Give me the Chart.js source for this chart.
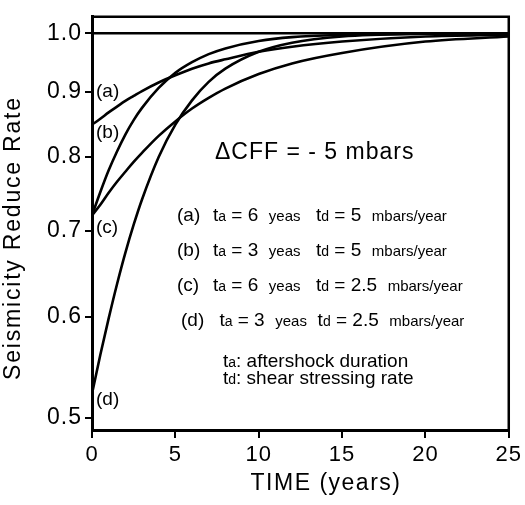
<!DOCTYPE html>
<html>
<head>
<meta charset="utf-8">
<script src="https://cdn.jsdelivr.net/npm/chart.js@4.4.0/dist/chart.umd.min.js"></script>
<style>
  html, body { margin: 0; padding: 0; background: #fff; }
  #wrap { width: 525px; height: 505px; }
</style>
</head>
<body>
<div id="wrap"><canvas id="myChart" width="525" height="505"></canvas></div>
<script>
// time after the stress drop (years)
const temps = [0, 0.5, 1, 1.5, 2, 2.5, 3, 4, 5, 6, 7, 8, 10, 12, 15, 20, 25];

// seismicity rate relative to background, one array per case
const courbeA = [0.848, 0.857, 0.867, 0.876, 0.885, 0.893, 0.901, 0.915, 0.927, 0.938, 0.947, 0.954, 0.967, 0.976, 0.985, 0.994, 0.997];
const courbeB = [0.720, 0.751, 0.781, 0.808, 0.833, 0.855, 0.874, 0.906, 0.931, 0.949, 0.963, 0.973, 0.986, 0.993, 0.997, 0.999, 1.000];
const courbeC = [0.720, 0.734, 0.750, 0.765, 0.779, 0.793, 0.806, 0.831, 0.853, 0.873, 0.890, 0.905, 0.929, 0.947, 0.965, 0.985, 0.994];
const courbeD = [0.522, 0.560, 0.598, 0.636, 0.673, 0.708, 0.741, 0.800, 0.848, 0.886, 0.916, 0.938, 0.967, 0.983, 0.994, 0.999, 1.000];

// background level
const tempsRef = [0, 25];
const niveauRef = [1, 1];

const ticksY = [0.5, 0.6, 0.7, 0.8, 0.9, 1.0];
const ticksX = [0, 5, 10, 15, 20, 25];

// curve tags next to the axis, and where they sit on the rate scale
const etiquettes = ["(a)", "(b)", "(c)", "(d)"];
const etiquettesY = [0.9, 0.835, 0.704, 0.516];

// legend rows
const lignesTa = ["6", "3", "6", "3"];
const lignesTd = ["5", "5", "2.5", "2.5"];

const police = "'Liberation Sans', Arial, sans-serif";
Chart.defaults.font.family = police;
Chart.defaults.color = "#000";

const serie = (valeurs) => temps.map((t, i) => ({ x: t, y: valeurs[i] }));

const trait = (valeurs) => ({
  data: serie(valeurs),
  borderColor: "#000",
  borderWidth: 2.6,
  pointRadius: 0,
  fill: false,
  cubicInterpolationMode: "monotone",
});

// draw a run of text pieces, each with its own font size
const morceaux = (ctx, x, y, pieces) => {
  pieces.forEach(([txt, taille]) => {
    ctx.font = taille + "px " + police;
    ctx.fillText(txt, x, y);
    x += ctx.measureText(txt).width;
  });
};

const habillage = {
  id: "habillage",
  beforeDraw(chart) {
    chart.ctx.letterSpacing = "1px";
  },
  afterDraw(chart) {
    const { ctx, chartArea: a, scales } = chart;
    ctx.save();

    // top and right side of the frame
    ctx.strokeStyle = "#000";
    ctx.lineWidth = 2.5;
    ctx.beginPath();
    ctx.moveTo(a.left, a.top);
    ctx.lineTo(a.right, a.top);
    ctx.lineTo(a.right, a.bottom);
    ctx.stroke();

    ctx.fillStyle = "#000";
    ctx.textBaseline = "middle";

    // axis titles
    ctx.letterSpacing = "1.5px";
    ctx.font = "23px " + police;
    ctx.textAlign = "center";
    ctx.fillText("TIME (years)", 326, 484);
    ctx.save();
    ctx.translate(14, 238);
    ctx.rotate(-Math.PI / 2);
    ctx.letterSpacing = "1.8px";
    ctx.fillText("Seismicity Reduce Rate", 0, 0);
    ctx.restore();

    // curve tags
    ctx.letterSpacing = "0px";
    ctx.textAlign = "left";
    ctx.font = "19px " + police;
    etiquettes.forEach((txt, i) => {
      ctx.fillText(txt, a.left + 4, scales.y.getPixelForValue(etiquettesY[i]));
    });

    // stress change
    ctx.textBaseline = "alphabetic";
    ctx.letterSpacing = "1px";
    ctx.font = "23px " + police;
    ctx.fillText("\u0394CFF = - 5 mbars", 215, 159);

    // cases
    ctx.letterSpacing = "0px";
    const base = [221, 256, 291, 326];
    const decal = [0, 0, 0, 4];
    etiquettes.forEach((txt, i) => {
      const y = base[i];
      morceaux(ctx, 177 + decal[i], y, [[txt, 19]]);
      morceaux(ctx, 213 + decal[i] * 1.6, y, [["t", 19], ["a", 14], [" = " + lignesTa[i] + "  ", 19], ["yeas", 15]]);
      morceaux(ctx, 316 + decal[i] * 0.4, y, [["t", 19], ["d", 14], [" = " + lignesTd[i] + "  ", 19], ["mbars/year", 15]]);
    });

    // definitions
    morceaux(ctx, 223, 367, [["t", 19], ["a", 14], [": aftershock duration", 19]]);
    morceaux(ctx, 223, 384, [["t", 19], ["d", 14], [": shear stressing rate", 19]]);

    ctx.restore();
  },
};

const data = {
  datasets: [
    {
      data: tempsRef.map((t, i) => ({ x: t, y: niveauRef[i] })),
      borderColor: "#000",
      borderWidth: 2.6,
      pointRadius: 0,
    },
    trait(courbeA),
    trait(courbeB),
    trait(courbeC),
    trait(courbeD),
  ],
};

const config = {
  type: "line",
  data: data,
  plugins: [habillage],
  options: {
    responsive: false,
    animation: false,
    layout: { padding: { top: 12, right: 16, left: 0, bottom: 0 } },
    plugins: { legend: { display: false }, tooltip: { enabled: false } },
    scales: {
      x: {
        type: "linear",
        min: 0,
        max: 25,
        afterFit: (s) => { s.height = 75; },
        afterBuildTicks: (s) => { s.ticks = ticksX.map((v) => ({ value: v })); },
        ticks: { font: { size: 22 }, padding: 4, maxRotation: 0 },
        grid: { drawOnChartArea: false, tickLength: 8, color: "#000", lineWidth: 2 },
        border: { color: "#000", width: 3 },
      },
      y: {
        type: "logarithmic",
        min: 0.489,
        max: 1.03,
        afterFit: (s) => { s.width = 92; },
        afterBuildTicks: (s) => { s.ticks = ticksY.map((v) => ({ value: v })); },
        ticks: { font: { size: 23 }, padding: 3, callback: (v) => v.toFixed(1) },
        grid: { drawOnChartArea: false, tickLength: 7, color: "#000", lineWidth: 2 },
        border: { color: "#000", width: 3 },
      },
    },
  },
};

const myChart = new Chart(document.getElementById("myChart"), config);
</script>
</body>
</html>
